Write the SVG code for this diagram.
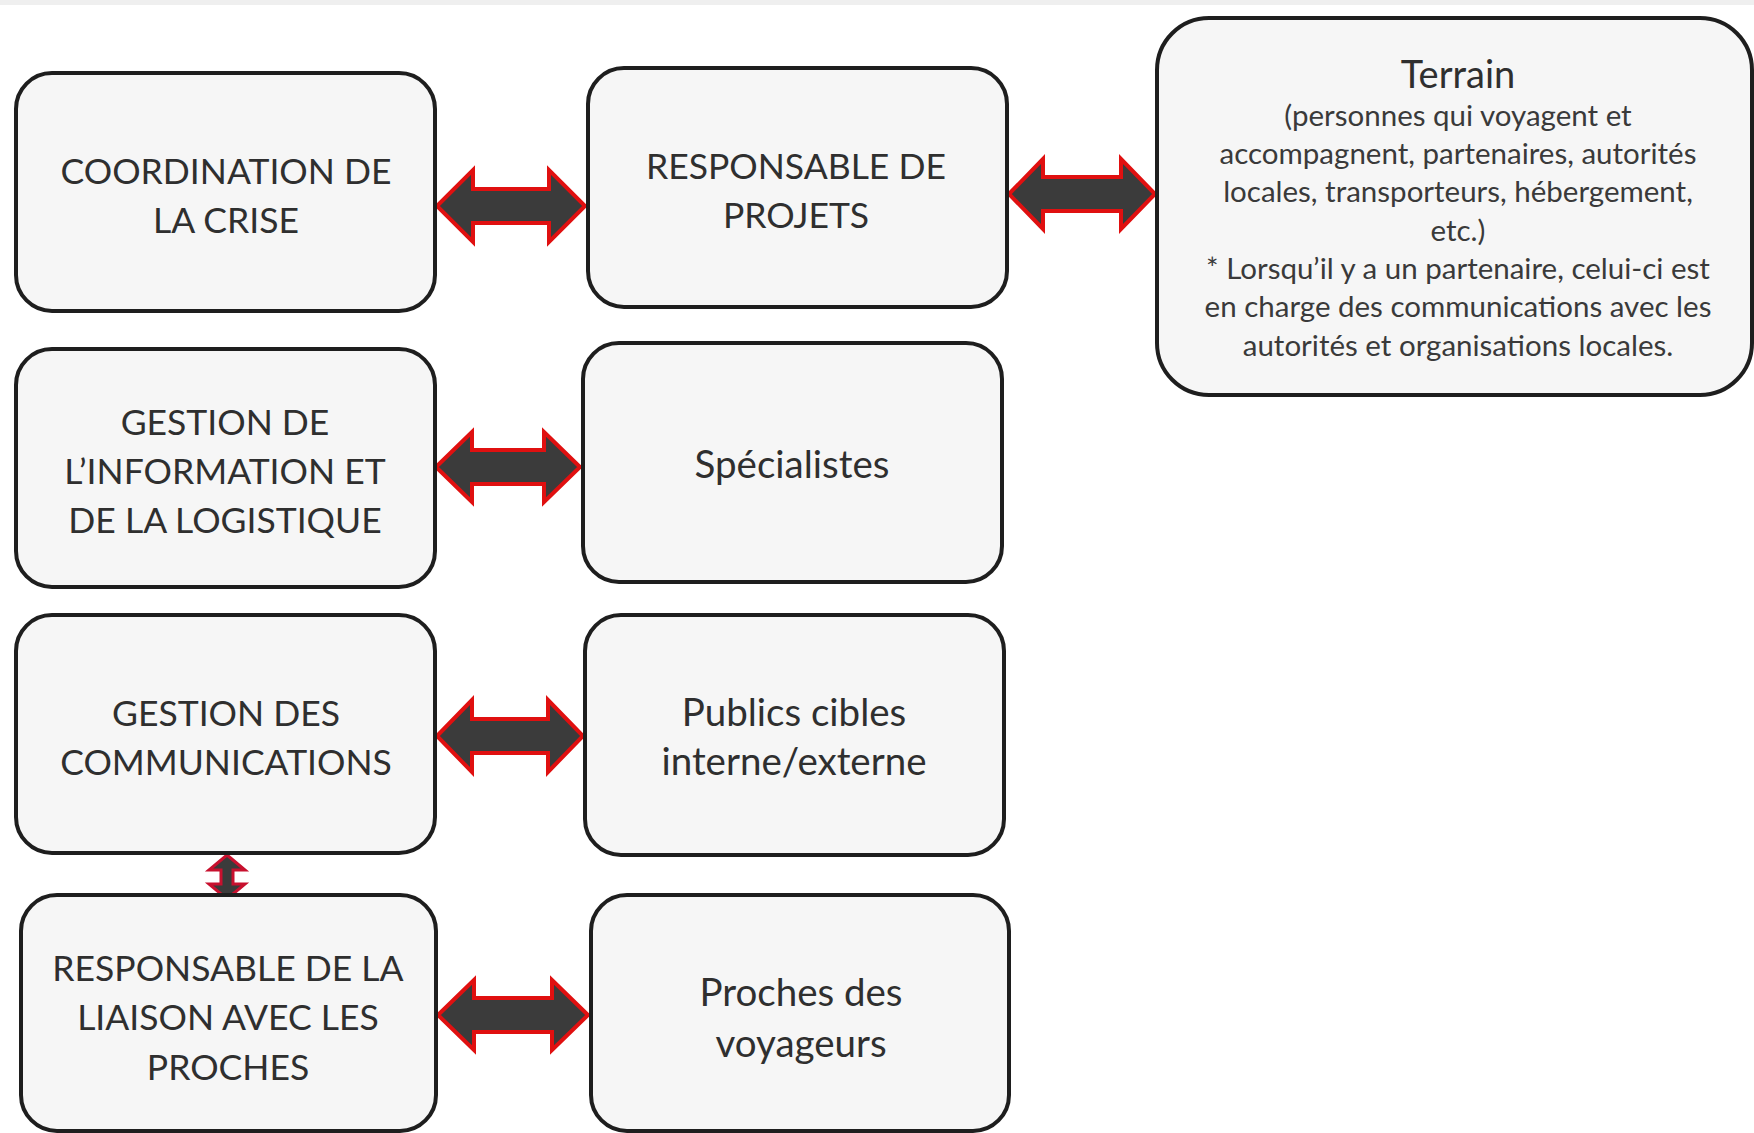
<svg xmlns="http://www.w3.org/2000/svg" width="1754" height="1133" viewBox="0 0 1754 1133">
<style>
.box{fill:#f6f6f6;stroke:#1e1e1e;stroke-width:4}
.t{font-family:Lato,"Liberation Sans",sans-serif;font-size:35.5px;fill:#2f2f2f;text-anchor:middle}
.m{font-family:Lato,"Liberation Sans",sans-serif;font-size:38.5px;fill:#2f2f2f;text-anchor:middle}
.s{font-family:Lato,"Liberation Sans",sans-serif;font-size:29.5px;fill:#3a3a3a;text-anchor:middle}
.arr{fill:#3b3b3b;stroke:#e01010;stroke-width:4;stroke-linejoin:miter}
.varr{fill:#3b3b3b;stroke:#c8102e;stroke-width:3}
</style>
<rect x="0" y="0" width="1754" height="1133" fill="#ffffff"/>
<rect x="0" y="0" width="1754" height="5" fill="#efefef"/>
<g id="connectors">
<path class="arr" d="M437,206 L473,170 L473,189 L549,189 L549,170 L585,206 L549,242 L549,223 L473,223 L473,242 Z"/>
<path class="arr" d="M1009,194 L1043,159 L1043,177 L1121,177 L1121,159 L1155,194 L1121,229 L1121,211 L1043,211 L1043,229 Z"/>
<path class="arr" d="M436,467 L472,432 L472,450 L544,450 L544,432 L580,467 L544,502 L544,484 L472,484 L472,502 Z"/>
<path class="arr" d="M437,736 L472,700 L472,719 L548,719 L548,700 L583,736 L548,772 L548,753 L472,753 L472,772 Z"/>
<path class="arr" d="M438,1015 L474,980 L474,998 L552,998 L552,980 L588,1015 L552,1050 L552,1032 L474,1032 L474,1050 Z"/>
<path class="varr" d="M227,855 L245,870 L233,870 L233,884 L245,884 L227,899 L209,884 L221,884 L221,870 L209,870 Z"/>
</g>
<g id="n-coordination">
<rect class="box" x="16" y="73" width="419" height="238" rx="36"/>
<text class="t" x="226" y="184">COORDINATION DE</text>
<text class="t" x="226" y="233">LA CRISE</text>
</g>
<g id="n-projets">
<rect class="box" x="588" y="68" width="419" height="239" rx="36"/>
<text class="t" x="796" y="179">RESPONSABLE DE</text>
<text class="t" x="796" y="228">PROJETS</text>
</g>
<g id="n-terrain">
<rect class="box" x="1157" y="18" width="595" height="377" rx="52"/>
<text class="m" x="1458" y="88" style="font-size:38px">Terrain</text>
<text class="s" x="1458" y="126">(personnes qui voyagent et</text>
<text class="s" x="1458" y="164">accompagnent, partenaires, autorités</text>
<text class="s" x="1458" y="202">locales, transporteurs, hébergement,</text>
<text class="s" x="1458" y="241">etc.)</text>
<text class="s" x="1458" y="279">* Lorsqu’il y a un partenaire, celui-ci est</text>
<text class="s" x="1458" y="317">en charge des communications avec les</text>
<text class="s" x="1458" y="356">autorités et organisations locales.</text>
</g>
<g id="n-information">
<rect class="box" x="16" y="349" width="419" height="238" rx="36"/>
<text class="t" x="225" y="435">GESTION DE</text>
<text class="t" x="225" y="484">L’INFORMATION ET</text>
<text class="t" x="225" y="533">DE LA LOGISTIQUE</text>
</g>
<g id="n-specialistes">
<rect class="box" x="583" y="343" width="419" height="239" rx="36"/>
<text class="m" x="792" y="478">Spécialistes</text>
</g>
<g id="n-communications">
<rect class="box" x="16" y="615" width="419" height="238" rx="36"/>
<text class="t" x="226" y="726">GESTION DES</text>
<text class="t" x="226" y="775">COMMUNICATIONS</text>
</g>
<g id="n-publics">
<rect class="box" x="585" y="615" width="419" height="240" rx="36"/>
<text class="m" x="794" y="726">Publics cibles</text>
<text class="m" x="794" y="775">interne/externe</text>
</g>
<g id="n-liaison">
<rect class="box" x="21" y="895" width="415" height="236" rx="36"/>
<text class="t" x="228" y="981">RESPONSABLE DE LA</text>
<text class="t" x="228" y="1030">LIAISON AVEC LES</text>
<text class="t" x="228" y="1080">PROCHES</text>
</g>
<g id="n-proches">
<rect class="box" x="591" y="895" width="418" height="236" rx="36"/>
<text class="m" x="801" y="1006">Proches des</text>
<text class="m" x="801" y="1057">voyageurs</text>
</g>
</svg>
